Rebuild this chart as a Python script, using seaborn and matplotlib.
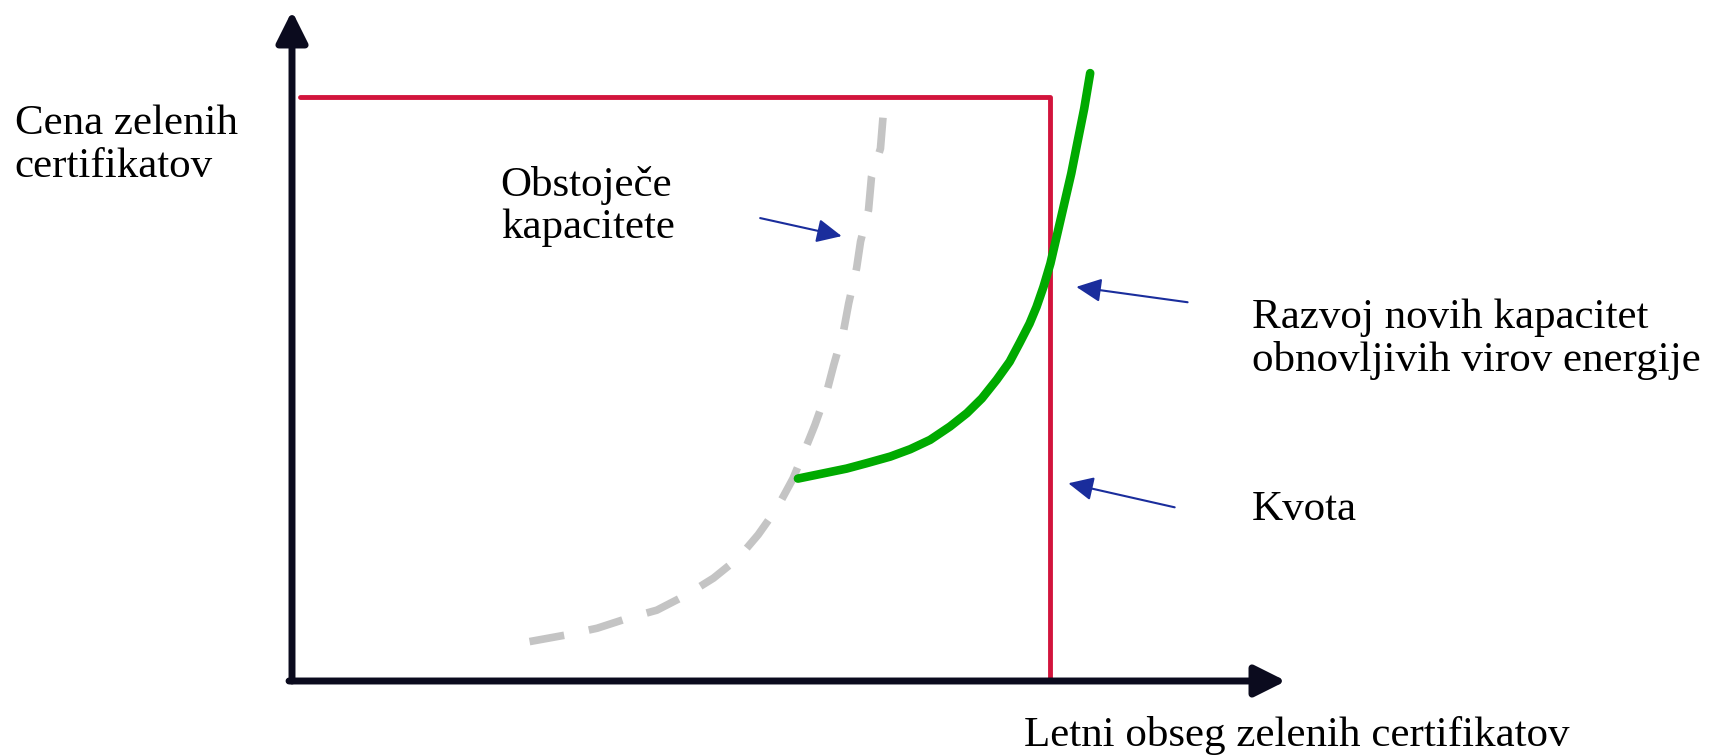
import matplotlib
matplotlib.use("Agg")
import matplotlib.pyplot as plt
import seaborn as sns
import pandas as pd

# Schematic market for green certificates (axes run 0..100 in both directions)
existing_x = [23.9, 27.6, 30.7, 33.8, 36.7, 39.7, 42.4, 44.9, 46.9, 48.8, 50.4, 51.6,
              52.6, 53.8, 54.5, 55.5, 56.0, 56.8, 57.2, 58.0, 58.3, 59.2, 59.5]
existing_y = [5.9, 6.9, 7.9, 9.4, 10.6, 12.9, 15.4, 18.4, 21.9, 25.9, 30.3, 34.6,
              38.3, 43.3, 47.3, 52.5, 56.5, 61.8, 65.8, 70.5, 75.5, 79.7, 85.2]

new_x = [50.9, 55.8, 57.8, 60.2, 62.2, 64.2, 66.2, 67.9, 69.4, 70.9, 72.2, 73.2, 74.2,
         74.9, 75.6, 76.3, 77.0, 77.7, 78.4, 79.0, 79.7, 80.3]
new_y = [30.3, 31.8, 32.6, 33.6, 34.7, 36.1, 38.1, 40.1, 42.3, 45.1, 47.8, 50.6, 53.5,
         56.0, 59.0, 62.5, 67.0, 71.5, 76.0, 80.5, 85.7, 91.0]

quota = 76.3
price_cap = 87.5
cap_start = 0.8

y_label = "Cena zelenih\ncertifikatov"
x_label = "Letni obseg zelenih certifikatov"
existing_label = "Obstoječe\nkapacitete"
new_label = "Razvoj novih kapacitet\nobnovljivih virov energije"
quota_label = "Kvota"

sns.set_theme(style="white")
plt.rcParams["font.family"] = ["Liberation Serif", "DejaVu Serif"]

fig = plt.figure(figsize=(17.09, 7.56), dpi=100)
ax = fig.add_axes([292 / 1709, 75 / 756, 994 / 1709, 668 / 756])
ax.set_xlim(0, 100)
ax.set_ylim(0, 100)
ax.axis("off")

axis_col = "#0b0b1e"
blue = "#1a2d9c"

# axes with arrow heads
arrow_axis = dict(arrowstyle="-|>,head_length=0.9,head_width=0.45", mutation_scale=21,
                  lw=5, color=axis_col, shrinkA=0, shrinkB=0)
ax.annotate("", xy=(0, 100.3), xytext=(0, 0), arrowprops=arrow_axis, annotation_clip=False)
ax.annotate("", xy=(100, 0), xytext=(-0.3, 0), arrowprops=arrow_axis, annotation_clip=False)

existing = pd.DataFrame({"x": existing_x, "y": existing_y})
new_cap = pd.DataFrame({"x": new_x, "y": new_y})
limits = pd.DataFrame({"x": [cap_start, quota, quota], "y": [price_cap, price_cap, 0]})

sns.lineplot(data=existing, x="x", y="y", ax=ax, estimator=None, sort=False,
             color="#c4c4c4", lw=5.5, linestyle=(0, (4.6, 3.3)), clip_on=False)
sns.lineplot(data=limits, x="x", y="y", ax=ax, estimator=None, sort=False,
             color="#d2143c", lw=3.5, clip_on=False)
sns.lineplot(data=new_cap, x="x", y="y", ax=ax, estimator=None, sort=False,
             color="#00aa00", lw=6.2, clip_on=False, solid_joinstyle="round")

# pointer arrows
arrow_kw = dict(arrowstyle="-|>,head_length=0.8,head_width=0.38", mutation_scale=19,
                lw=1.5, color=blue, shrinkA=0, shrinkB=0)
ax.annotate("", xy=(55.3, 66.6), xytext=(47.1, 69.3), arrowprops=arrow_kw)
ax.annotate("", xy=(78.9, 59.0), xytext=(90.1, 56.7), arrowprops=arrow_kw, annotation_clip=False)
ax.annotate("", xy=(78.1, 29.6), xytext=(88.8, 26.0), arrowprops=arrow_kw, annotation_clip=False)

txt = dict(fontsize=31, color="black", ha="left", va="center", linespacing=1.12)
ax.text(-27.9, 80.2, y_label, **txt)
ax.text(21.0, 71.1, existing_label, **txt)
ax.text(96.6, 51.2, new_label, **txt)
ax.text(96.6, 25.7, quota_label, **txt)
ax.text(73.6, -8.2, x_label, **txt)

fig.savefig("out.png", dpi=100)
